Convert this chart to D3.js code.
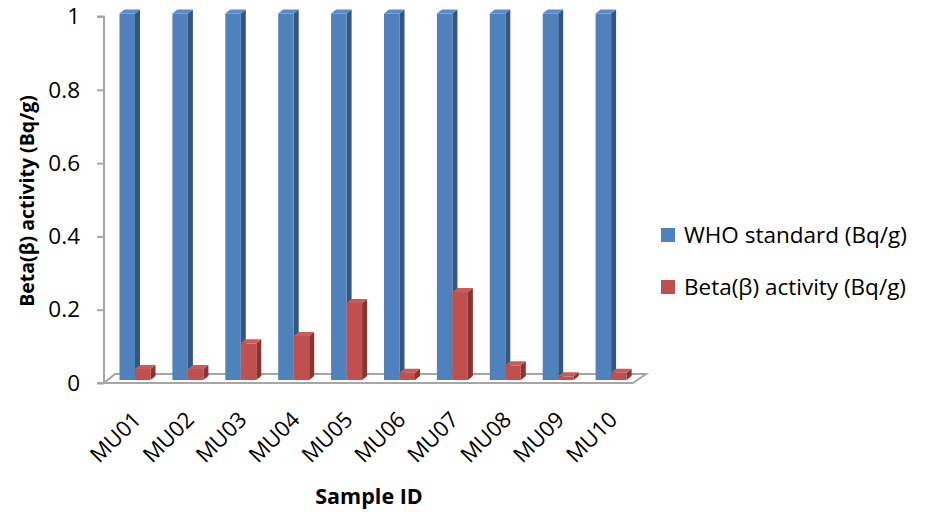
<!DOCTYPE html>
<html>
<head>
<meta charset="utf-8">
<script src="https://cdnjs.cloudflare.com/ajax/libs/d3/7.8.5/d3.min.js"></script>
<style>
  html, body { margin: 0; padding: 0; background: #fff; }
  svg { display: block; font-family: "Open Sans", sans-serif; }
</style>
</head>
<body>
<svg id="chart" width="927" height="512"></svg>
<script>
// Sample IDs along the x axis
const categories = ["MU01", "MU02", "MU03", "MU04", "MU05", "MU06", "MU07", "MU08", "MU09", "MU10"];
// Series names
const seriesNames = ["WHO standard (Bq/g)", "Beta(\u03b2) activity (Bq/g)"];
// WHO reference level for every sample
const whoStandard = [1, 1, 1, 1, 1, 1, 1, 1, 1, 1];
// Measured beta activity
const betaActivity = [0.03, 0.03, 0.10, 0.12, 0.21, 0.02, 0.24, 0.04, 0.01, 0.02];
// Y axis ticks
const yTicks = [0, 0.2, 0.4, 0.6, 0.8, 1];

const seriesValues = [whoStandard, betaActivity];
const colors = [
  { front: "#4F81BD", side: "#34567F", top: "#5A8ACB" },
  { front: "#C0504D", side: "#8A3330", top: "#C95C59" }
];

const svg = d3.select("#chart");

// Plot geometry
const left = 104, right = 633, baseY = 383, topY = 16.5;
const floorDx = 11, floorDy = -9;     // depth of the floor
const barShiftX = 0, barShiftY = -3;  // bars stand part way back on the floor
const barDepthX = 5, barDepthY = -4;  // depth of each bar

const x = d3.scaleBand().domain(categories).range([left, right]);
const inner = d3.scaleBand().domain(d3.range(seriesNames.length)).range([15.5, 46.5]);
const y = d3.scaleLinear().domain([0, 1]).range([baseY, topY]);

// Floor
const floor = [
  [left, baseY], [right, baseY],
  [right + floorDx + 2, baseY + floorDy], [left + floorDx, baseY + floorDy]
];
svg.append("polygon")
  .attr("points", floor.map(p => p.join(",")).join(" "))
  .attr("fill", "#fff")
  .attr("stroke", "#A6A6A6")
  .attr("stroke-width", 2)
  .attr("stroke-linejoin", "miter");

// Y axis
const yAxis = d3.axisLeft(y).tickValues(yTicks).tickSize(7).tickPadding(17)
  .tickFormat(d => d3.format("~g")(d));
const gy = svg.append("g").attr("transform", `translate(${left},0)`).call(yAxis);
gy.select(".domain").attr("stroke", "#A6A6A6").attr("stroke-width", 2)
  .attr("d", `M-7,${topY}H0V${baseY}H-7`);
gy.selectAll(".tick line").attr("stroke", "#A6A6A6").attr("stroke-width", 2);
gy.selectAll(".tick text").attr("fill", "#000").style("font-size", "22.5px")
  .style("font-family", "'Open Sans', sans-serif");

// Bars as 3D prisms
const bars = [];
categories.forEach((c, i) => {
  seriesValues.forEach((vals, s) => {
    bars.push({ cat: c, s, v: vals[i] });
  });
});

const g = svg.append("g");
bars.forEach(b => {
  const x0 = x(b.cat) + inner(b.s) + barShiftX;
  const x1 = x0 + inner.bandwidth();
  const y0 = y(0) + barShiftY;
  const y1 = y(b.v) + barShiftY;
  const col = colors[b.s];
  const bar = g.append("g");
  // side face
  bar.append("polygon")
    .attr("points", [[x1, y0], [x1 + barDepthX, y0 + barDepthY], [x1 + barDepthX, y1 + barDepthY], [x1, y1]]
      .map(p => p.join(",")).join(" "))
    .attr("fill", col.side);
  // top face
  bar.append("polygon")
    .attr("points", [[x0, y1], [x0 + barDepthX, y1 + barDepthY], [x1 + barDepthX, y1 + barDepthY], [x1, y1]]
      .map(p => p.join(",")).join(" "))
    .attr("fill", col.top);
  // front face
  bar.append("rect")
    .attr("x", x0).attr("y", y1)
    .attr("width", inner.bandwidth()).attr("height", y0 - y1)
    .attr("fill", col.front);
});

// X labels, rotated
svg.append("g").selectAll("text")
  .data(categories)
  .join("text")
  .attr("transform", d => `translate(${x(d) + x.bandwidth() / 2 + 12},421) rotate(-45)`)
  .attr("text-anchor", "end")
  .style("font-size", "22px")
  .text(d => d);

// Axis titles
svg.append("text")
  .attr("x", 369).attr("y", 504)
  .attr("text-anchor", "middle")
  .style("font-size", "21.5px").style("font-weight", "bold")
  .text("Sample ID");

svg.append("text")
  .attr("transform", "translate(34,201) rotate(-90)")
  .attr("text-anchor", "middle")
  .style("font-size", "19.5px").style("font-weight", "bold")
  .text("Beta(\u03b2) activity (Bq/g)");

// Legend
const legend = svg.append("g");
seriesNames.forEach((name, i) => {
  const ly = 235 + i * 52;
  legend.append("rect")
    .attr("x", 661).attr("y", ly - 7).attr("width", 14).attr("height", 14)
    .attr("fill", colors[i].front);
  legend.append("text")
    .attr("x", 684).attr("y", ly + 7.5)
    .style("font-size", "22.5px")
    .text(name);
});
</script>
</body>
</html>
